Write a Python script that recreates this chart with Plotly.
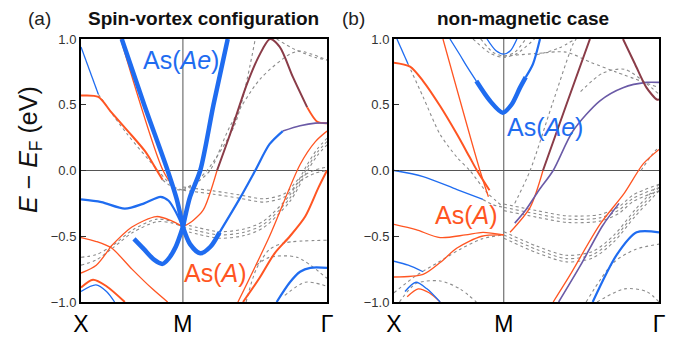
import plotly.graph_objects as go

# ---------------- tick labels / axes data ----------------
K_TICKS = [0.0, 1.0, 2.414]
K_LABELS = ["X", "M", "Γ"]
E_TICKS = [-1.0, -0.5, 0.0, 0.5, 1.0]
E_LABELS = ["−1.0", "−0.5", "0.0", "0.5", "1.0"]

# ---------------- panel (a): spin-vortex bands (k, E) ----------------
a_ae_ul_k = [0.40, 0.62, 0.85, 0.94, 1.0]
a_ae_ul_E = [1.0, 0.5, 0.0, -0.22, -0.43]
a_ae_ur_k = [1.0, 1.07, 1.17, 1.30, 1.44]
a_ae_ur_E = [-0.43, -0.2, 0.0, 0.5, 1.0]
a_ae_ll_k = [1.0, 0.93, 0.86, 0.80, 0.72, 0.62, 0.52]
a_ae_ll_E = [-0.43, -0.58, -0.67, -0.71, -0.68, -0.60, -0.52]
a_ae_lr_k = [1.0, 1.07, 1.17, 1.27, 1.36]
a_ae_lr_E = [-0.43, -0.56, -0.63, -0.58, -0.47]
a_blue_up_k = [1.36, 1.56, 1.71, 1.85, 1.98]
a_blue_up_E = [-0.47, -0.21, 0.0, 0.2, 0.30]
a_purp_g_k = [1.98, 2.15, 2.3, 2.414]
a_purp_g_E = [0.30, 0.34, 0.36, 0.36]
a_blue_m02_k = [0.0, 0.2, 0.43, 0.62, 0.78, 0.86, 0.94, 1.0]
a_blue_m02_E = [-0.22, -0.24, -0.29, -0.25, -0.20, -0.23, -0.33, -0.43]
a_blue_top_k = [0.0, 0.17]
a_blue_top_E = [0.94, 0.58]
a_gray_top_k = [0.17, 0.45, 0.756, 0.9, 1.0]
a_gray_top_E = [0.58, 0.28, 0.0, -0.12, -0.15]
a_or_top_k = [0.0, 0.17, 0.29, 0.46, 0.63, 0.73, 0.80]
a_or_top_E = [0.57, 0.56, 0.45, 0.30, 0.145, 0.02, -0.07]
a_gray_or_k = [0.80, 0.92, 1.0]
a_gray_or_E = [-0.07, -0.14, -0.15]
a_or_par_k = [0.39, 0.805, 0.93]
a_or_par_E = [1.0, 0.0, -0.15]
a_gray_m015_k = [1.0, 1.3, 1.55, 1.8, 2.0, 2.15, 2.3, 2.414]
a_gray_m015_E = [-0.15, -0.18, -0.21, -0.24, -0.20, -0.08, -0.02, 0.0]
a_gray_ur1_k = [1.0, 1.1, 1.236, 1.51, 1.71]
a_gray_ur1_E = [-0.15, -0.10, 0.0, 0.35, 1.0]
a_gray_ur2_k = [1.0, 1.12, 1.266, 1.462, 1.757, 2.05, 2.15, 2.414]
a_gray_ur2_E = [-0.15, -0.10, 0.0, 0.336, 0.695, 0.885, 0.908, 0.84]
a_gray_tr_k = [1.92, 2.1, 2.3, 2.414]
a_gray_tr_E = [1.0, 0.92, 0.86, 0.84]
a_or_mar_k = [1.0, 1.1, 1.2, 1.335]
a_or_mar_E = [-0.43, -0.38, -0.30, 0.0]
a_maroon_k = [1.335, 1.46, 1.63, 1.756, 1.855, 1.95, 2.08, 2.22]
a_maroon_E = [0.0, 0.27, 0.66, 0.885, 1.0, 0.94, 0.71, 0.48]
a_or_g_k = [2.22, 2.32, 2.414]
a_or_g_E = [0.48, 0.37, 0.36]
a_gray_m043_k = [1.0, 1.15, 1.36, 1.6, 1.79, 2.05, 2.22, 2.32, 2.414]
a_gray_m043_E = [-0.43, -0.46, -0.49, -0.47, -0.41, -0.21, 0.02, 0.14, 0.22]
a_or_thin_r_k = [1.54, 1.85, 2.15, 2.3, 2.414]
a_or_thin_r_E = [-1.0, -0.5, 0.046, 0.22, 0.30]
a_or_thick_r_k = [1.59, 1.75, 1.9, 2.05, 2.2, 2.33, 2.414]
a_or_thick_r_E = [-1.0, -0.82, -0.63, -0.50, -0.35, -0.13, 0.0]
a_gray_r1_k = [1.62, 1.72, 1.85, 2.0, 2.414]
a_gray_r1_E = [-1.0, -0.75, -0.60, -0.55, -0.53]
a_gray_r2_k = [1.72, 1.85, 2.12, 2.414]
a_gray_r2_E = [-0.72, -0.66, -0.66, -0.82]
a_gray_r3_k = [2.0, 2.2, 2.414]
a_gray_r3_E = [-0.95, -0.85, -0.88]
a_blue_r_k = [1.92, 2.05, 2.15, 2.25, 2.414]
a_blue_r_E = [-1.0, -0.85, -0.77, -0.74, -0.74]
a_or_peak_k = [0.29, 0.5, 0.74, 0.88, 1.0]
a_or_peak_E = [-0.58, -0.43, -0.35, -0.38, -0.43]
a_or_x051_k = [0.0, 0.15, 0.3, 0.5, 0.7, 0.85]
a_or_x051_E = [-0.51, -0.54, -0.59, -0.75, -0.90, -1.0]
a_or_x078_k = [0.0, 0.15, 0.29]
a_or_x078_E = [-0.78, -0.72, -0.58]
a_gray_xl1_k = [0.0, 0.15, 0.31, 0.51, 0.745, 0.9, 1.0]
a_gray_xl1_E = [-0.66, -0.64, -0.57, -0.45, -0.37, -0.39, -0.43]
a_gray_xl2_k = [0.0, 0.15, 0.31, 0.51, 0.745, 0.9, 1.0]
a_gray_xl2_E = [-0.72, -0.68, -0.59, -0.47, -0.39, -0.40, -0.43]
a_or_x089_k = [0.0, 0.118, 0.25, 0.43]
a_or_x089_E = [-0.89, -0.83, -0.88, -1.0]
a_blue_x092_k = [0.0, 0.147, 0.25, 0.33]
a_blue_x092_E = [-0.92, -0.87, -0.92, -1.0]

# ---------------- panel (b): non-magnetic bands (k, E) ----------------
b_blue_top_k = [0.027, 0.128]
b_blue_top_E = [1.0, 0.81]
b_gray_top_k = [0.128, 0.265, 0.42, 0.574, 0.69, 0.85, 1.0]
b_gray_top_E = [0.81, 0.56, 0.275, 0.1, 0.0, -0.17, -0.28]
b_or_top_k = [0.0, 0.146, 0.265, 0.42, 0.574, 0.69, 0.756, 0.87]
b_or_top_E = [0.82, 0.79, 0.68, 0.49, 0.275, 0.1, 0.0, -0.15]
b_or_str_k = [0.446, 0.783, 0.86]
b_or_str_E = [1.0, 0.0, -0.2]
b_ae_thin_k = [0.51, 0.60, 0.665, 0.75]
b_ae_thin_E = [1.0, 0.88, 0.79, 0.68]
b_ae_thick_k = [0.75, 0.874, 0.99, 1.07, 1.148, 1.2]
b_ae_thick_E = [0.68, 0.53, 0.44, 0.50, 0.63, 0.71]
b_ae_up_k = [1.2, 1.266, 1.33]
b_ae_up_E = [0.71, 0.81, 1.0]
b_blue_u_k = [0.847, 0.93, 1.0, 1.06, 1.12]
b_blue_u_E = [1.0, 0.91, 0.885, 0.91, 1.0]
b_gray_u1_k = [0.79, 0.9, 1.0, 1.1, 1.2]
b_gray_u1_E = [1.0, 0.9, 0.87, 0.9, 1.0]
b_gray_u2_k = [0.72, 0.88, 1.0, 1.12, 1.28]
b_gray_u2_E = [1.0, 0.89, 0.86, 0.89, 1.0]
b_gray_flat_k = [1.0, 1.3, 1.567, 1.8, 2.02, 2.414]
b_gray_flat_E = [0.87, 0.89, 0.90, 0.82, 0.75, 0.63]
b_gray_up_k = [1.3, 1.5, 1.65]
b_gray_up_E = [0.88, 0.93, 1.0]
b_or_mar_k = [1.057, 1.24, 1.357]
b_or_mar_E = [-0.47, -0.28, 0.0]
b_maroon_k = [1.357, 1.57, 1.785]
b_maroon_E = [0.0, 0.5, 1.0]
b_purple_k = [1.1, 1.2, 1.32, 1.45, 1.63, 1.876, 2.086, 2.3, 2.414]
b_purple_E = [-0.40, -0.30, -0.15, 0.0, 0.30, 0.53, 0.63, 0.67, 0.67]
b_gray_str_k = [1.1, 1.24, 1.44, 1.63, 1.66]
b_gray_str_E = [-0.25, 0.0, 0.5, 0.96, 1.0]
b_maroon_tr_k = [2.086, 2.195, 2.3, 2.395, 2.414]
b_maroon_tr_E = [1.0, 0.81, 0.63, 0.54, 0.54]
b_gray_tr_k = [1.7, 1.9, 2.1, 2.3, 2.414]
b_gray_tr_E = [0.6, 0.74, 0.77, 0.66, 0.58]
b_gray_g1_k = [2.25, 2.35, 2.414]
b_gray_g1_E = [0.0, 0.12, 0.18]
b_blue_x0_k = [0.0, 0.265, 0.574, 0.81]
b_blue_x0_E = [0.0, -0.046, -0.145, -0.22]
b_gray_x0_k = [0.81, 0.9, 1.0]
b_gray_x0_E = [-0.22, -0.26, -0.28]
b_gray_m028_k = [1.0, 1.3, 1.576, 1.876, 2.05, 2.18, 2.414]
b_gray_m028_E = [-0.28, -0.33, -0.37, -0.36, -0.30, -0.21, -0.13]
b_or_x041_k = [0.0, 0.2, 0.42, 0.65, 0.81, 1.0]
b_or_x041_E = [-0.41, -0.45, -0.51, -0.49, -0.47, -0.49]
b_or_x081_k = [0.0, 0.265, 0.42, 0.574, 0.8, 1.0]
b_or_x081_E = [-0.81, -0.79, -0.70, -0.59, -0.50, -0.49]
b_gray_x1_k = [0.0, 0.2, 0.4, 0.6, 0.8, 1.0]
b_gray_x1_E = [-0.93, -0.80, -0.70, -0.60, -0.52, -0.49]
b_blue_x069_k = [0.0, 0.13, 0.265]
b_blue_x069_E = [-0.69, -0.72, -0.77]
b_blue_x087_k = [0.1, 0.2, 0.3, 0.42]
b_blue_x087_E = [-0.92, -0.85, -0.90, -1.0]
b_or_x09_k = [0.12, 0.22, 0.32, 0.42]
b_or_x09_E = [-0.96, -0.90, -0.93, -1.0]
b_gray_bl_k = [0.05, 0.2, 0.42, 0.6, 0.75]
b_gray_bl_E = [-1.0, -0.86, -0.84, -0.90, -1.0]
b_gray_m049_k = [1.0, 1.3, 1.57, 1.81, 2.0, 2.2, 2.414]
b_gray_m049_E = [-0.49, -0.60, -0.67, -0.64, -0.52, -0.32, -0.13]
b_or_r_k = [1.45, 1.6, 1.876, 2.1, 2.27, 2.414]
b_or_r_E = [-1.0, -0.80, -0.41, -0.17, 0.05, 0.16]
b_purple_r_k = [1.5, 1.7, 1.9, 2.05]
b_purple_r_E = [-1.0, -0.72, -0.42, -0.25]
b_blue_r_k = [1.81, 2.03, 2.21, 2.414]
b_blue_r_E = [-1.0, -0.64, -0.47, -0.47]
b_gray_r1_k = [1.75, 2.0, 2.2, 2.414]
b_gray_r1_E = [-1.0, -0.70, -0.60, -0.56]
b_gray_r2_k = [1.85, 2.1, 2.3, 2.414]
b_gray_r2_E = [-1.0, -0.90, -0.92, -1.0]

# ---------------- styles ----------------
BLUE = "#1f6cf0"
ORANGE = "#ff5522"
MAROON = "#8a3c48"
PURPLE = "#6a5aa6"
GRAY = "#8c8c8c"
STY = {
    "blue_thick": (BLUE, 4.5, "solid"),
    "blue_med": (BLUE, 2.2, "solid"),
    "blue_thin": (BLUE, 1.3, "solid"),
    "or_med": (ORANGE, 2.0, "solid"),
    "or_thin": (ORANGE, 1.3, "solid"),
    "maroon": (MAROON, 2.0, "solid"),
    "purple": (PURPLE, 1.6, "solid"),
    "gray": (GRAY, 1.1, "dot"),
}

fig = go.Figure()


def band(ax, k, E, sty, dE=0.0):
    c, w, d = STY[sty]
    fig.add_trace(go.Scatter(
        x=k, y=[e + dE for e in E], mode="lines", xaxis="x" + ax, yaxis="y" + ax,
        line=dict(color=c, width=w, dash=d, shape="spline", smoothing=0.8),
        hoverinfo="skip", showlegend=False))


A, B = "", "2"
# panel (a) gray first
for dE in (0.0, 0.025):
    band(A, a_gray_m015_k, a_gray_m015_E, "gray", dE)
for dE in (0.0, -0.025, 0.025):
    band(A, a_gray_m043_k, a_gray_m043_E, "gray", dE)
band(A, a_gray_top_k, a_gray_top_E, "gray")
band(A, a_gray_or_k, a_gray_or_E, "gray")
band(A, a_gray_ur1_k, a_gray_ur1_E, "gray")
band(A, a_gray_ur2_k, a_gray_ur2_E, "gray")
band(A, a_gray_tr_k, a_gray_tr_E, "gray")
band(A, a_gray_r1_k, a_gray_r1_E, "gray")
band(A, a_gray_r2_k, a_gray_r2_E, "gray")
band(A, a_gray_r3_k, a_gray_r3_E, "gray")
band(A, a_gray_xl1_k, a_gray_xl1_E, "gray")
band(A, a_gray_xl2_k, a_gray_xl2_E, "gray")
band(A, a_or_top_k, a_or_top_E, "or_med")
band(A, a_or_par_k, a_or_par_E, "or_thin")
band(A, a_or_mar_k, a_or_mar_E, "or_thin")
band(A, a_maroon_k, a_maroon_E, "maroon")
band(A, a_or_g_k, a_or_g_E, "or_med")
band(A, a_or_thin_r_k, a_or_thin_r_E, "or_thin")
band(A, a_or_thick_r_k, a_or_thick_r_E, "or_med")
band(A, a_or_peak_k, a_or_peak_E, "or_thin")
band(A, a_or_x051_k, a_or_x051_E, "or_thin")
band(A, a_or_x078_k, a_or_x078_E, "or_thin")
band(A, a_or_x089_k, a_or_x089_E, "or_med")
band(A, a_blue_x092_k, a_blue_x092_E, "blue_thin")
band(A, a_blue_r_k, a_blue_r_E, "blue_med")
band(A, a_blue_top_k, a_blue_top_E, "blue_thin")
band(A, a_blue_m02_k, a_blue_m02_E, "blue_med")
band(A, a_blue_up_k, a_blue_up_E, "blue_med")
band(A, a_purp_g_k, a_purp_g_E, "purple")
band(A, a_ae_ul_k, a_ae_ul_E, "blue_thick")
band(A, a_ae_ur_k, a_ae_ur_E, "blue_thick")
band(A, a_ae_ll_k, a_ae_ll_E, "blue_thick")
band(A, a_ae_lr_k, a_ae_lr_E, "blue_thick")

# panel (b)
for dE in (0.0, -0.025, 0.025):
    band(B, b_gray_m028_k, b_gray_m028_E, "gray", dE)
    band(B, b_gray_m049_k, b_gray_m049_E, "gray", dE)
band(B, b_gray_top_k, b_gray_top_E, "gray")
band(B, b_gray_u1_k, b_gray_u1_E, "gray")
band(B, b_gray_u2_k, b_gray_u2_E, "gray")
band(B, b_gray_flat_k, b_gray_flat_E, "gray")
band(B, b_gray_up_k, b_gray_up_E, "gray")
band(B, b_gray_str_k, b_gray_str_E, "gray")
band(B, b_gray_tr_k, b_gray_tr_E, "gray")
band(B, b_gray_g1_k, b_gray_g1_E, "gray")
band(B, b_gray_x0_k, b_gray_x0_E, "gray")
band(B, b_gray_x1_k, b_gray_x1_E, "gray")
band(B, b_gray_bl_k, b_gray_bl_E, "gray")
band(B, b_gray_r1_k, b_gray_r1_E, "gray")
band(B, b_gray_r2_k, b_gray_r2_E, "gray")
band(B, b_or_top_k, b_or_top_E, "or_med")
band(B, b_or_str_k, b_or_str_E, "or_thin")
band(B, b_or_mar_k, b_or_mar_E, "or_thin")
band(B, b_maroon_k, b_maroon_E, "maroon")
band(B, b_purple_k, b_purple_E, "purple")
band(B, b_maroon_tr_k, b_maroon_tr_E, "maroon")
band(B, b_or_x041_k, b_or_x041_E, "or_thin")
band(B, b_or_x081_k, b_or_x081_E, "or_thin")
band(B, b_or_x09_k, b_or_x09_E, "or_thin")
band(B, b_or_r_k, b_or_r_E, "or_thin")
band(B, b_purple_r_k, b_purple_r_E, "purple")
band(B, b_blue_r_k, b_blue_r_E, "blue_med")
band(B, b_blue_x0_k, b_blue_x0_E, "blue_thin")
band(B, b_blue_x069_k, b_blue_x069_E, "blue_thin")
band(B, b_blue_x087_k, b_blue_x087_E, "blue_thin")
band(B, b_blue_top_k, b_blue_top_E, "blue_thin")
band(B, b_blue_u_k, b_blue_u_E, "blue_thin")
band(B, b_ae_thin_k, b_ae_thin_E, "blue_thin")
band(B, b_ae_up_k, b_ae_up_E, "blue_med")
band(B, b_ae_thick_k, b_ae_thick_E, "blue_thick")

FONT = "Liberation Sans, Arial, sans-serif"
W, H = 673, 337
dom_y = [1 - 302 / H, 1 - 39 / H]


def xax(dom, anchor):
    return dict(domain=dom, range=[0, K_TICKS[-1]], tickvals=K_TICKS, ticktext=K_LABELS,
                anchor=anchor, automargin=False,
                ticks="", showgrid=False, zeroline=False, showline=True, mirror=True,
                linecolor="black", linewidth=2, tickfont=dict(size=23, color="black", family=FONT))


def yax(anchor):
    return dict(domain=dom_y, range=[-1, 1], tickvals=E_TICKS, ticktext=E_LABELS, anchor=anchor,
                automargin=False,
                ticks="inside", ticklen=5, tickcolor="#333", showgrid=False, zeroline=False,
                showline=True, mirror=True, linecolor="black", linewidth=2,
                tickfont=dict(size=13, color="#333", family=FONT))


shapes = []
for xr, yr in (("x", "y"), ("x2", "y2")):
    shapes.append(dict(type="line", xref=xr, yref=yr, x0=1.0, x1=1.0, y0=-1, y1=1,
                       line=dict(color="#555", width=1), layer="below"))
    shapes.append(dict(type="line", xref=xr, yref=yr, x0=0, x1=K_TICKS[-1], y0=0, y1=0,
                       line=dict(color="#555", width=1), layer="below"))


def note(text, x, y, size, color, xref="paper", yref="paper", **kw):
    return dict(text=text, x=x, y=y, xref=xref, yref=yref, showarrow=False,
                xanchor="center", yanchor="middle", font=dict(size=size, color=color, family=FONT), **kw)


ann = [
    note("(a)", 39 / W, 1 - 19 / H, 19, "#222"),
    note("<b>Spin-vortex configuration</b>", 204 / W, 1 - 19 / H, 19, "#111"),
    note("(b)", 353 / W, 1 - 19 / H, 19, "#222"),
    note("<b>non-magnetic case</b>", 523 / W, 1 - 19 / H, 19, "#111"),
    note("<i>E</i> − <i>E</i><sub>F</sub> (eV)", 30 / W, 1 - 150 / H, 25, "#111", textangle=-90),
    note("As(<i>Ae</i>)", 0.98, 0.84, 25, BLUE, "x", "y"),
    note("As(<i>A</i>)", 1.315, -0.78, 25, ORANGE, "x", "y"),
    note("As(<i>Ae</i>)", 1.375, 0.33, 25, BLUE, "x2", "y2"),
    note("As(<i>A</i>)", 0.656, -0.34, 25, ORANGE, "x2", "y2"),
]

fig.update_layout(
    width=W, height=H, autosize=False, margin=dict(l=0, r=0, t=0, b=0, pad=0, autoexpand=False),
    paper_bgcolor="white", plot_bgcolor="white",
    xaxis=xax([81 / W, 327 / W], "y"), xaxis2=xax([394 / W, 659 / W], "y2"),
    yaxis=yax("x"), yaxis2=yax("x2"),
    shapes=shapes, annotations=ann, showlegend=False,
)
fig.write_html("out.html", config={"displayModeBar": False},
               post_script="document.body.style.margin='0px';")
